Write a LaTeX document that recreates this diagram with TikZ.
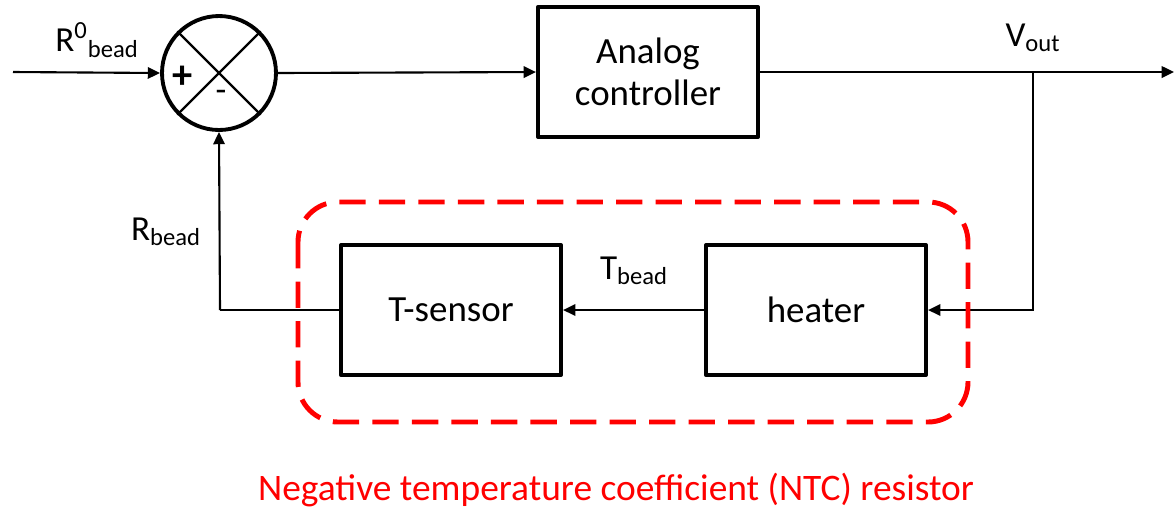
\documentclass[tikz,border=0pt]{standalone}
\usepackage{fontspec}
\setmainfont{Carlito}
\usepackage{tikz}
\usetikzlibrary{
  arrows.meta,  % Triangle arrow tips
  positioning,  % relative placement of nodes
  calc          % coordinate calculations
}
\tikzset{
  block/.style={
    draw,
    line width=2.4pt,
    line join=round,
    minimum width=4.4cm,
    minimum height=2.6cm,
    align=center,
    font=\fontsize{21}{24}\selectfont
  },
  sum junction/.style={
    circle,
    draw,
    line width=2.2pt,
    minimum size=2.28cm,
    inner sep=0pt
  },
  signal/.style={
    -{Triangle[length=7pt,width=6.5pt]},
    line width=1.2pt
  },
  wire/.style={
    -,
    line width=1.2pt
  },
  signal label/.style={
    font=\fontsize{20}{22}\selectfont
  },
  ntc box/.style={
    draw=red,
    line width=2.8pt,
    dash pattern=on 15pt off 7.5pt,
    rounded corners=0.8cm
  }
}

\begin{document}
\begin{tikzpicture}[x=0.02cm, y=-0.02cm] % one unit = one pixel of the layout, y downwards

  \useasboundingbox (0,0) rectangle (1174,512); % fixed canvas

  % summing junction
  \node[sum junction] (sum) at (219,73) {}; % comparator circle
  \draw[line width=1.3pt] (sum.north west) -- (sum.south east); % cross
  \draw[line width=1.3pt] (sum.north east) -- (sum.south west);
  \node[signal label, font=\fontsize{23}{23}\selectfont\bfseries] (plus) at (183,77) {+}; % positive input
  \node[signal label] (minus) at (221,96) {-}; % negative input

  % blocks
  \node[block] (ctrl) at (648,72) {Analog\\controller}; % controller
  \node[block] (heater) at (816,310) {heater}; % heater
  \node[block] (tsensor) at (451,310) {T-sensor}; % temperature sensor

  % auxiliary points
  \coordinate (in) at (13,72); % reference input start
  \coordinate (out) at (1174,72); % output end
  \coordinate (branch) at (1033,72); % take-off point of V_out
  \coordinate (back) at (220,310); % corner of the feedback path

  % forward path
  \draw[signal] (in) -- (sum.west); % reference into comparator
  \draw[signal] (sum.east) -- (ctrl.west); % error into controller
  \draw[signal] (ctrl.east) -- (out); % controller output

  % feedback path
  \draw[signal] (branch) |- (heater.east); % V_out drives heater
  \draw[signal] (heater.west) -- (tsensor.east); % bead temperature
  \draw[wire] (tsensor.west) -- (back); % sensor output
  \draw[signal] (back) -- (sum.south); % resistance back to comparator

  % signal labels
  \node[signal label] (rref) at (97,40) {R\textsuperscript{0}\textsubscript{bead}};
  \node[signal label] (vout) at (1033,38) {V\textsubscript{out}};
  \node[signal label] (tbead) at (634,271) {T\textsubscript{bead}};
  \node[signal label] (rbead) at (166,232) {R\textsubscript{bead}};

  % NTC resistor frame
  \draw[ntc box] (298,202) rectangle (968,422); % dashed red outline
  \node[text=red, font=\fontsize{21.3}{24}\selectfont] (ntc) at (616,490) {Negative temperature coefficient (NTC) resistor};

\end{tikzpicture}
\end{document}
